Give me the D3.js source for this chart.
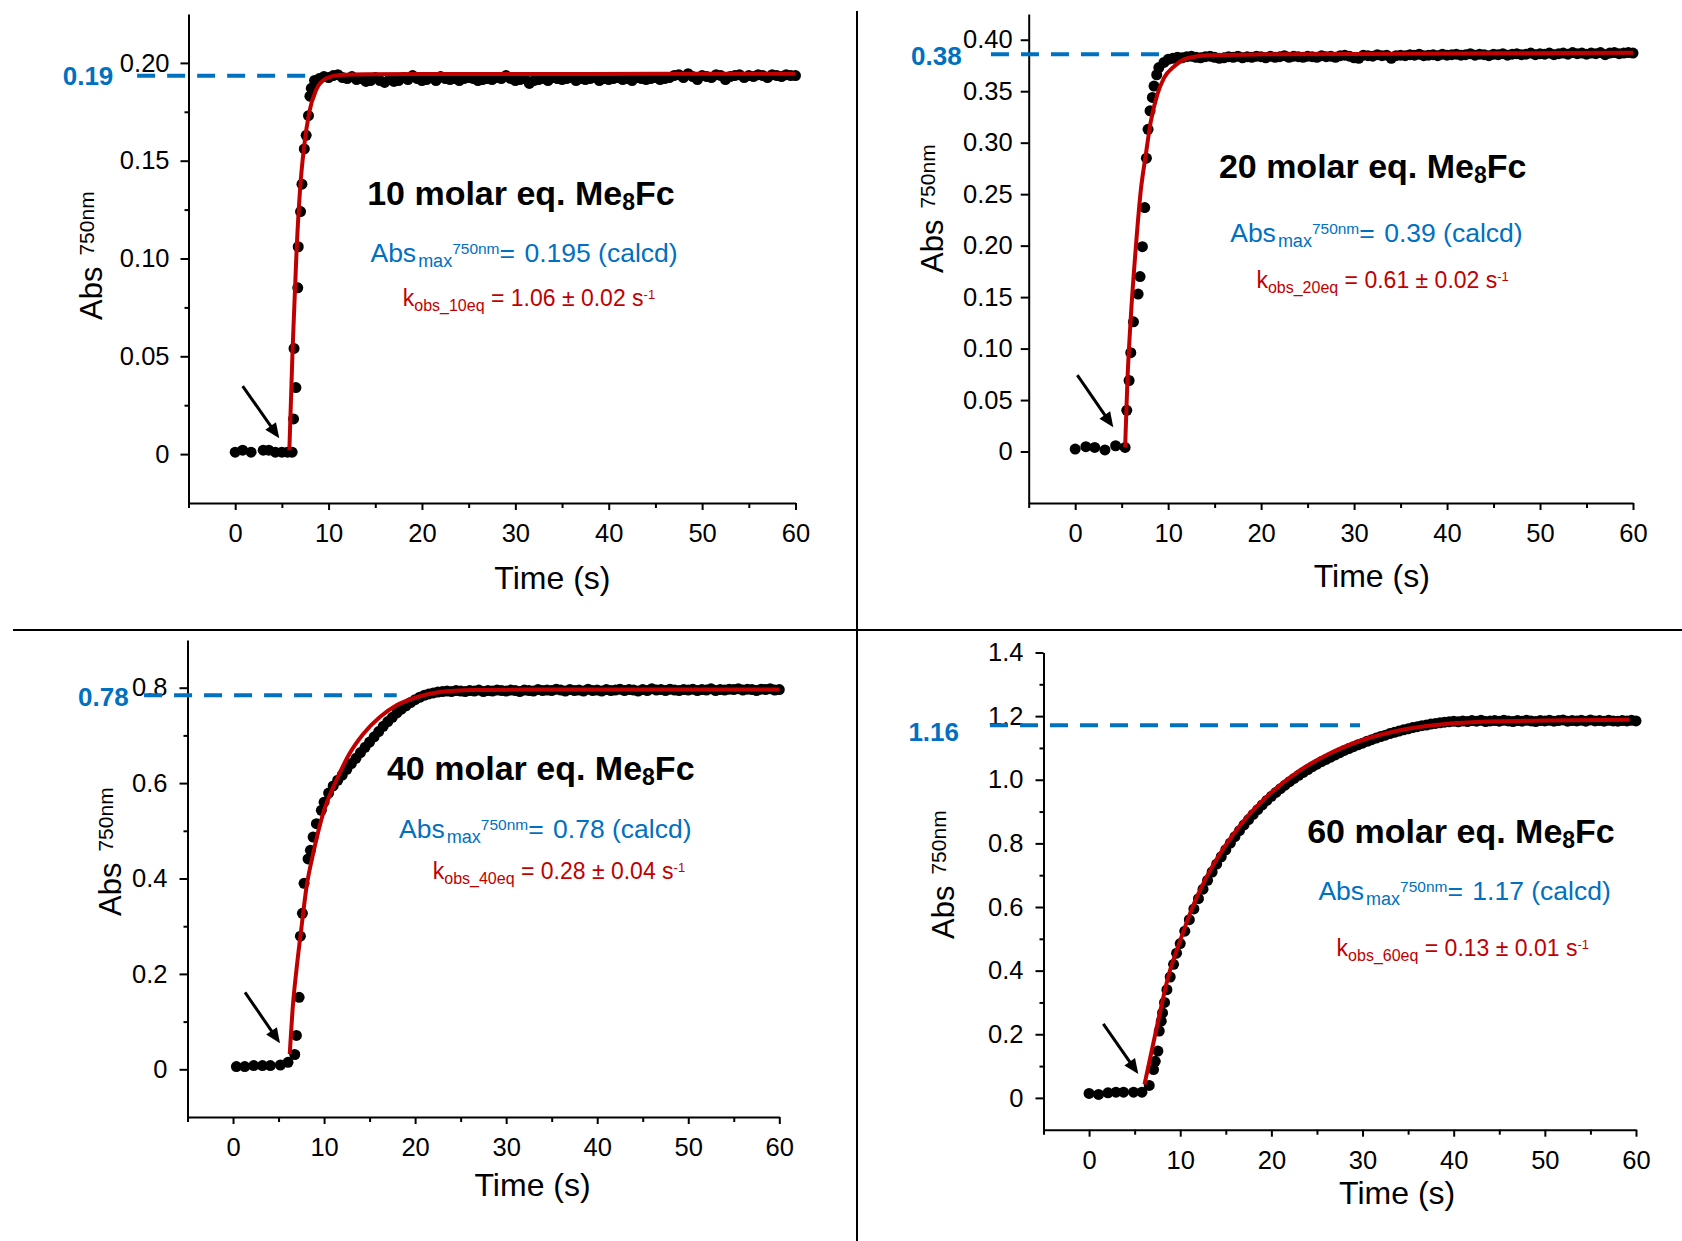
<!DOCTYPE html>
<html>
<head>
<meta charset="utf-8">
<script src="https://cdn.jsdelivr.net/npm/d3@7"></script>
<style>
    body { margin: 0; background: #fff; }
    svg { display: block; }
    text { white-space: pre; }
</style>
</head>
<body>
<svg id="chart" width="1682" height="1241"></svg>
<script>
/* Shared time grid (s) for the dense part of each trace */
let gridTime = [10, 10.5, 11, 11.5, 12, 12.5, 13, 13.5, 14, 14.5, 15, 15.5, 16, 16.5, 17, 17.5, 18, 18.5, 19, 19.5,
    20, 20.5, 21, 21.5, 22, 22.5, 23, 23.5, 24, 24.5, 25, 25.5, 26, 26.5, 27, 27.5, 28, 28.5, 29, 29.5,
    30, 30.5, 31, 31.5, 32, 32.5, 33, 33.5, 34, 34.5, 35, 35.5, 36, 36.5, 37, 37.5, 38, 38.5, 39, 39.5,
    40, 40.5, 41, 41.5, 42, 42.5, 43, 43.5, 44, 44.5, 45, 45.5, 46, 46.5, 47, 47.5, 48, 48.5, 49, 49.5,
    50, 50.5, 51, 51.5, 52, 52.5, 53, 53.5, 54, 54.5, 55, 55.5, 56, 56.5, 57, 57.5, 58, 58.5, 59, 59.5, 60];

/* 10 molar eq. */
let time10 = [0, 0.8, 1.7, 3.0, 3.6, 4.3, 5.0, 5.6, 6.1, 6.25, 6.5, 6.3, 6.7, 6.75, 7.0, 7.15, 7.4, 7.6, 7.85, 8.0, 8.15, 8.5, 9.0, 9.5];
let abs10 = [0.001, 0.002, 0.001, 0.002, 0.002, 0.001, 0.001, 0.001, 0.001, 0.018, 0.034, 0.054, 0.085, 0.106, 0.124, 0.138, 0.156, 0.163, 0.173, 0.183, 0.187, 0.191, 0.192, 0.193];
let abs10Grid = [
    0.1925, 0.1935, 0.1940, 0.1925, 0.1920, 0.1930, 0.1915, 0.1920, 0.1905, 0.1910,
    0.1925, 0.1910, 0.1900, 0.1915, 0.1905, 0.1910, 0.1925, 0.1915, 0.1935, 0.1920,
    0.1910, 0.1915, 0.1925, 0.1910, 0.1930, 0.1920, 0.1915, 0.1920, 0.1910, 0.1920,
    0.1925, 0.1920, 0.1910, 0.1915, 0.1920, 0.1915, 0.1925, 0.1920, 0.1935, 0.1920,
    0.1910, 0.1915, 0.1920, 0.1895, 0.1910, 0.1915, 0.1920, 0.1910, 0.1925, 0.1920,
    0.1915, 0.1920, 0.1925, 0.1910, 0.1920, 0.1915, 0.1920, 0.1925, 0.1910, 0.1920,
    0.1915, 0.1920, 0.1925, 0.1915, 0.1920, 0.1910, 0.1925, 0.1920, 0.1915, 0.1920,
    0.1925, 0.1915, 0.1920, 0.1925, 0.1935, 0.1940, 0.1925, 0.1945, 0.1930, 0.1915,
    0.1935, 0.1930, 0.1925, 0.1940, 0.1935, 0.1915, 0.1930, 0.1935, 0.1940, 0.1925,
    0.1935, 0.1930, 0.1940, 0.1935, 0.1925, 0.1940, 0.1935, 0.1930, 0.1940, 0.1935,
    0.1935];
let fit10Time = [5.8, 6.15, 6.58, 6.94, 7.4, 7.94, 8.65, 9.73, 11.15, 14, 20, 30, 45, 60];
let fit10Abs = [0.002, 0.054, 0.105, 0.135, 0.158, 0.175, 0.186, 0.192, 0.1938, 0.1942, 0.1943, 0.1943, 0.1944, 0.1945];

/* 20 molar eq. */
let time20 = [0, 1.15, 2.1, 3.2, 4.35, 5.37, 5.55, 5.8, 5.98, 6.27, 6.77, 6.98, 7.23, 7.48, 7.66, 7.84, 8.05, 8.3, 8.48, 8.77, 9.0, 9.55];
let abs20 = [0.0024, 0.0047, 0.004, 0.0015, 0.0056, 0.004, 0.040, 0.069, 0.096, 0.126, 0.153, 0.170, 0.199, 0.237, 0.285, 0.313, 0.331, 0.344, 0.355, 0.366, 0.373, 0.378];
let abs20Grid = [
    0.3810, 0.3820, 0.3830, 0.3825, 0.3835, 0.3840, 0.3830, 0.3825, 0.3835, 0.3840,
    0.3830, 0.3820, 0.3825, 0.3835, 0.3830, 0.3840, 0.3825, 0.3835, 0.3830, 0.3840,
    0.3835, 0.3825, 0.3840, 0.3830, 0.3835, 0.3845, 0.3830, 0.3840, 0.3835, 0.3830,
    0.3840, 0.3835, 0.3830, 0.3845, 0.3835, 0.3840, 0.3830, 0.3845, 0.3850, 0.3840,
    0.3825, 0.3820, 0.3850, 0.3845, 0.3840, 0.3855, 0.3845, 0.3850, 0.3820, 0.3845,
    0.3850, 0.3845, 0.3855, 0.3850, 0.3860, 0.3845, 0.3850, 0.3855, 0.3845, 0.3860,
    0.3850, 0.3855, 0.3860, 0.3850, 0.3855, 0.3865, 0.3850, 0.3860, 0.3855, 0.3845,
    0.3860, 0.3855, 0.3865, 0.3850, 0.3860, 0.3865, 0.3855, 0.3860, 0.3870, 0.3855,
    0.3865, 0.3860, 0.3870, 0.3855, 0.3865, 0.3870, 0.3860, 0.3875, 0.3865, 0.3870,
    0.3860, 0.3870, 0.3865, 0.3875, 0.3855, 0.3870, 0.3875, 0.3865, 0.3870, 0.3875,
    0.3870];
let fit20Time = [5.37, 5.62, 5.98, 6.52, 7.05, 7.59, 8.12, 8.84, 9.56, 10.63, 12.07, 14.2, 20, 30, 45, 60];
let fit20Abs = [0.004, 0.069, 0.13, 0.198, 0.253, 0.288, 0.32, 0.347, 0.363, 0.374, 0.382, 0.385, 0.3858, 0.3862, 0.3868, 0.3873];

/* 40 molar eq. */
let time40 = [0.37, 1.29, 2.27, 3.23, 4.1, 5.2, 6.04, 6.78, 6.96, 7.26, 7.4, 7.62, 7.8, 8.24, 8.5, 8.8, 9.16, 9.7];
let abs40 = [0.0057, 0.0057, 0.0078, 0.0078, 0.0078, 0.009, 0.0147, 0.031, 0.071, 0.151, 0.279, 0.327, 0.39, 0.441, 0.459, 0.487, 0.515, 0.543];
let abs40Grid = [
    0.560, 0.579, 0.594, 0.606, 0.617, 0.629, 0.641, 0.652, 0.664, 0.675,
    0.686, 0.697, 0.708, 0.719, 0.729, 0.738, 0.747, 0.755, 0.762, 0.769,
    0.775, 0.780, 0.784, 0.787, 0.789, 0.791, 0.792, 0.793, 0.792, 0.794,
    0.793, 0.792, 0.794, 0.793, 0.795, 0.792, 0.794, 0.793, 0.795, 0.794,
    0.793, 0.795, 0.794, 0.792, 0.795, 0.794, 0.793, 0.796, 0.794, 0.795,
    0.794, 0.797, 0.795, 0.793, 0.796, 0.794, 0.795, 0.793, 0.797, 0.794,
    0.795, 0.793, 0.796, 0.794, 0.795, 0.797, 0.794, 0.796, 0.795, 0.793,
    0.796, 0.794, 0.798, 0.795, 0.796, 0.794, 0.797, 0.795, 0.794, 0.796,
    0.795, 0.797, 0.794, 0.796, 0.795, 0.798, 0.794, 0.796, 0.795, 0.797,
    0.796, 0.798, 0.795, 0.797, 0.796, 0.794, 0.797, 0.796, 0.798, 0.795,
    0.796];
let fit40Time = [6.23, 6.59, 6.96, 7.52, 8.07, 8.8, 9.89, 11.36, 12.8, 14.3, 16.1, 17.96, 20.15, 22.7, 26.4, 31.9, 45, 60];
let fit40Abs = [0.032, 0.137, 0.207, 0.298, 0.382, 0.452, 0.536, 0.606, 0.662, 0.703, 0.738, 0.763, 0.78, 0.791, 0.795, 0.796, 0.796, 0.796];

/* 60 molar eq. */
let time60 = [0, 1.04, 2.07, 2.95, 3.78, 4.88, 5.8, 6.6, 7.07, 7.26, 7.55, 7.7, 7.92, 8.06, 8.28, 8.54, 8.9, 9.27, 9.6];
let abs60 = [0.014, 0.011, 0.016, 0.018, 0.018, 0.018, 0.018, 0.039, 0.089, 0.115, 0.147, 0.21, 0.241, 0.267, 0.30, 0.34, 0.38, 0.42, 0.455];
let abs60Grid = [
    0.485, 0.524, 0.560, 0.594, 0.626, 0.656, 0.684, 0.710, 0.735, 0.758,
    0.780, 0.801, 0.821, 0.840, 0.858, 0.875, 0.891, 0.906, 0.921, 0.935,
    0.948, 0.960, 0.972, 0.983, 0.994, 1.004, 1.014, 1.023, 1.032, 1.041,
    1.049, 1.057, 1.064, 1.071, 1.078, 1.085, 1.092, 1.098, 1.104, 1.110,
    1.115, 1.121, 1.126, 1.131, 1.136, 1.140, 1.145, 1.149, 1.153, 1.157,
    1.160, 1.164, 1.167, 1.170, 1.172, 1.175, 1.177, 1.179, 1.181, 1.182,
    1.184, 1.182, 1.185, 1.183, 1.186, 1.184, 1.187, 1.183, 1.185, 1.186,
    1.184, 1.187, 1.185, 1.183, 1.186, 1.184, 1.187, 1.185, 1.183, 1.186,
    1.185, 1.187, 1.184, 1.186, 1.188, 1.184, 1.186, 1.185, 1.187, 1.184,
    1.188, 1.185, 1.186, 1.184, 1.187, 1.185, 1.184, 1.186, 1.185, 1.187,
    1.185];
let fit60Time = [6.08, 7.26, 8.72, 10, 11.5, 13, 15, 17, 20, 23, 26, 30, 34, 38, 42, 50, 59.3];
let fit60Abs = [0.042, 0.2, 0.385, 0.495, 0.61, 0.70, 0.795, 0.872, 0.96, 1.027, 1.077, 1.125, 1.155, 1.172, 1.181, 1.186, 1.189];

/* Labels */
let equivalents = ['10', '20', '40', '60'];
let absMaxText = ['0.195', '0.39', '0.78', '1.17'];
let kObsText = ['1.06 ± 0.02', '0.61 ± 0.02', '0.28 ± 0.04', '0.13 ± 0.01'];
let maxLabels = ['0.19', '0.38', '0.78', '1.16'];
let maxValues = [0.1934, 0.3859, 0.7843, 1.1713];
let xTicks = [0, 10, 20, 30, 40, 50, 60];
let xMinorTicks = [-5, 5, 15, 25, 35, 45, 55];

const FONT = '"Liberation Sans", Arial, Helvetica, sans-serif';
const BLUE = '#0070c0';
const RED = '#c00000';

let svg = d3.select('#chart');

/* Layout of the four panels (pixel ranges and annotation anchors in data units) */
let panels = [
    {
        time: time10, abs: abs10, grid: abs10Grid, fitTime: fit10Time, fitAbs: fit10Abs,
        xRange: [188.5, 795.5], yRange: [503, 14], yDomain: [-0.025, 0.225],
        yTicks: [0, 0.05, 0.1, 0.15, 0.2], yMinor: [0.025, 0.075, 0.125, 0.175], digits: 2,
        dash: [-10.5, 7.66], maxLabelAt: [-13.05, 0.1886],
        arrow: [[0.80, 0.0348], [4.72, 0.0081]],
        titleAt: [30.6, 0.1273], absAt: [30.93, 0.0983], kAt: [31.46, 0.0758],
        yLabel: {dx: -86.5, y: 320}, xLabelAt: {t: 33.97, dy: 86}, labelPad: 11
    },
    {
        time: time20, abs: abs20, grid: abs20Grid, fitTime: fit20Time, fitAbs: fit20Abs,
        xRange: [1028.7, 1633], yRange: [503, 14], yDomain: [-0.05, 0.425],
        yTicks: [0, 0.05, 0.1, 0.15, 0.2, 0.25, 0.3, 0.35, 0.4], yMinor: [], digits: 2,
        dash: [-9.06, 9.12], maxLabelAt: [-12.21, 0.3754],
        arrow: [[0.23, 0.0743], [4.10, 0.0235]],
        titleAt: [32.0, 0.2657], absAt: [32.4, 0.2035], kAt: [33.07, 0.1588],
        yLabel: {dx: -85.7, y: 273}, xLabelAt: {t: 31.9, dy: 84}, labelPad: 8
    },
    {
        time: time40, abs: abs40, grid: abs40Grid, fitTime: fit40Time, fitAbs: fit40Abs,
        xRange: [187.5, 779.3], yRange: [1117, 640], yDomain: [-0.1, 0.9],
        yTicks: [0, 0.2, 0.4, 0.6, 0.8], yMinor: [0.1, 0.3, 0.5, 0.7], digits: 1,
        dash: [-9.77, 17.98], maxLabelAt: [-11.46, 0.7616],
        arrow: [[1.32, 0.1614], [5.16, 0.0545]],
        titleAt: [33.8, 0.6057], absAt: [34.3, 0.4853], kAt: [35.8, 0.398],
        yLabel: {dx: -66.5, y: 916}, xLabelAt: {t: 32.9, dy: 79}, labelPad: 12
    },
    {
        time: time60, abs: abs60, grid: abs60Grid, fitTime: fit60Time, fitAbs: fit60Abs,
        xRange: [1043.5, 1636], yRange: [1129.7, 652.5], yDomain: [-0.1, 1.4],
        yTicks: [0, 0.2, 0.4, 0.6, 0.8, 1.0, 1.2, 1.4], yMinor: [0.1, 0.3, 0.5, 0.7, 0.9, 1.1, 1.3], digits: 1,
        dash: [-10.87, 29.72], maxLabelAt: [-14.27, 1.122],
        arrow: [[1.56, 0.2323], [5.40, 0.0751]],
        titleAt: [40.8, 0.8026], absAt: [41.2, 0.6209], kAt: [41.0, 0.4467],
        yLabel: {dx: -90, y: 939}, xLabelAt: {t: 33.8, dy: 74.5}, labelPad: 12
    }
];

/* Panel dividers */
svg.append('line')
    .attr('x1', 13).attr('x2', 1682).attr('y1', 630).attr('y2', 630)
    .attr('stroke', '#000').attr('stroke-width', 2);
svg.append('line')
    .attr('x1', 857).attr('x2', 857).attr('y1', 11).attr('y2', 1241)
    .attr('stroke', '#000').attr('stroke-width', 2);

/* Text made of runs with their own size and baseline shift */
function richText(g, x, y, parts, fill, weight) {
    let t = g.append('text')
        .attr('x', x).attr('y', y)
        .attr('text-anchor', 'middle')
        .attr('font-family', FONT)
        .attr('font-weight', weight || 'normal')
        .attr('fill', fill);
    parts.forEach(p => {
        t.append('tspan')
            .attr('font-size', p.s)
            .attr('dy', p.dy || 0)
            .attr('dx', p.dx || 0)
            .text(p.t);
    });
    return t;
}

panels.forEach((p, i) => {
    let g = svg.append('g');
    let x = d3.scaleLinear().domain([-5, 60]).range(p.xRange);
    let y = d3.scaleLinear().domain(p.yDomain).range(p.yRange);
    let fmt = d => d === 0 ? '0' : d.toFixed(p.digits);

    /* Axes with major and minor ticks */
    let xAxis = g.append('g')
        .attr('transform', `translate(0,${p.yRange[0]})`)
        .call(d3.axisBottom(x).tickValues(xTicks).tickSize(7).tickSizeOuter(0).tickPadding(14).tickFormat(d3.format('d')));
    g.append('g')
        .attr('transform', `translate(0,${p.yRange[0]})`)
        .call(d3.axisBottom(x).tickValues(xMinorTicks).tickSize(5).tickFormat(''))
        .call(a => a.select('.domain').remove());
    let yAxis = g.append('g')
        .attr('transform', `translate(${p.xRange[0]},0)`)
        .call(d3.axisLeft(y).tickValues(p.yTicks).tickSize(8).tickSizeOuter(0).tickPadding(p.labelPad).tickFormat(fmt));
    g.append('g')
        .attr('transform', `translate(${p.xRange[0]},0)`)
        .call(d3.axisLeft(y).tickValues(p.yMinor).tickSize(4).tickFormat(''))
        .call(a => a.select('.domain').remove());
    g.selectAll('.domain, .tick line').attr('stroke', '#000').attr('stroke-width', 2);
    [xAxis, yAxis].forEach(a => a.attr('font-family', FONT).attr('font-size', 25.5));
    xAxis.selectAll('.tick text').attr('fill', '#000');
    yAxis.selectAll('.tick text').attr('fill', '#000');

    /* Axis titles */
    g.append('text')
        .attr('x', x(p.xLabelAt.t)).attr('y', p.yRange[0] + p.xLabelAt.dy)
        .attr('text-anchor', 'middle')
        .attr('font-family', FONT).attr('font-size', 32)
        .text('Time (s)');
    let yl = g.append('text')
        .attr('transform', `translate(${p.xRange[0] + p.yLabel.dx},${p.yLabel.y}) rotate(-90)`)
        .attr('font-family', FONT);
    yl.append('tspan').attr('font-size', 31).text('Abs');
    yl.append('tspan').attr('font-size', 21).attr('dx', 11).attr('dy', -8).text('750nm');

    /* Blue dashed line at the calculated maximum */
    g.append('line')
        .attr('x1', x(p.dash[0])).attr('x2', x(p.dash[1]))
        .attr('y1', y(maxValues[i])).attr('y2', y(maxValues[i]))
        .attr('stroke', BLUE).attr('stroke-width', 4)
        .attr('stroke-dasharray', '18 12');
    g.append('text')
        .attr('x', x(p.maxLabelAt[0])).attr('y', y(p.maxLabelAt[1]))
        .attr('text-anchor', 'end')
        .attr('font-family', FONT).attr('font-weight', 'bold').attr('font-size', 26)
        .attr('fill', BLUE)
        .text(maxLabels[i]);

    /* Measured points */
    let points = d3.zip(p.time, p.abs).concat(d3.zip(gridTime, p.grid));
    g.append('g').selectAll('circle')
        .data(points)
        .enter()
        .append('circle')
        .attr('cx', d => x(d[0]))
        .attr('cy', d => y(d[1]))
        .attr('r', 5.5)
        .attr('fill', '#000');

    /* First-order fit */
    let line = d3.line()
        .x(d => x(d[0]))
        .y(d => y(d[1]))
        .curve(d3.curveMonotoneX);
    g.append('path')
        .attr('d', line(d3.zip(p.fitTime, p.fitAbs)))
        .attr('fill', 'none')
        .attr('stroke', RED)
        .attr('stroke-width', 4);

    /* Arrow marking the injection */
    let a0 = [x(p.arrow[0][0]), y(p.arrow[0][1])];
    let a1 = [x(p.arrow[1][0]), y(p.arrow[1][1])];
    let len = Math.hypot(a1[0] - a0[0], a1[1] - a0[1]);
    let ux = (a1[0] - a0[0]) / len, uy = (a1[1] - a0[1]) / len;
    let head = 15, half = 6.5;
    g.append('line')
        .attr('x1', a0[0]).attr('y1', a0[1])
        .attr('x2', a1[0] - ux * (head - 2)).attr('y2', a1[1] - uy * (head - 2))
        .attr('stroke', '#000').attr('stroke-width', 3);
    let bx = a1[0] - ux * head, by = a1[1] - uy * head;
    g.append('path')
        .attr('d', `M${a1[0]},${a1[1]}L${bx - uy * half},${by + ux * half}L${bx + uy * half},${by - ux * half}Z`)
        .attr('fill', '#000');

    /* Annotations */
    richText(g, x(p.titleAt[0]), y(p.titleAt[1]), [
        {t: `${equivalents[i]} molar eq. Me`, s: 34},
        {t: '8', s: 23, dy: 5},
        {t: 'Fc', s: 34, dy: -5}
    ], '#000', 'bold');
    richText(g, x(p.absAt[0]), y(p.absAt[1]), [
        {t: 'Abs', s: 26.5},
        {t: 'max', s: 18, dy: 5, dx: 2},
        {t: '750nm', s: 15.5, dy: -13},
        {t: '= ', s: 26.5, dy: 8},
        {t: `${absMaxText[i]} (calcd)`, s: 26.5, dx: 2}
    ], BLUE);
    richText(g, x(p.kAt[0]), y(p.kAt[1]), [
        {t: 'k', s: 23},
        {t: `obs_${equivalents[i]}eq`, s: 16, dy: 5},
        {t: ` = ${kObsText[i]} s`, s: 23, dy: -5},
        {t: '-1', s: 13, dy: -7}
    ], RED);
});
</script>
</body>
</html>
